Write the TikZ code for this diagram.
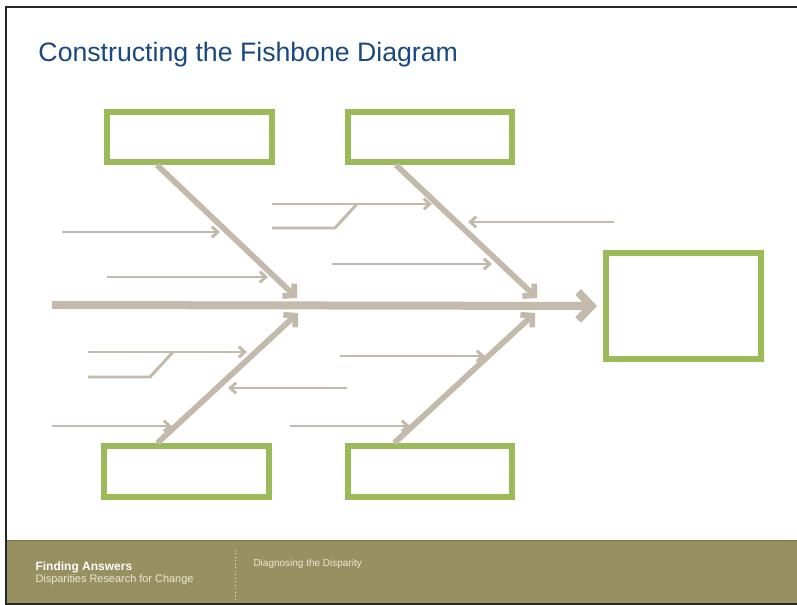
\documentclass[tikz,border=0pt]{standalone}
\usepackage{fontspec}
\setmainfont{Liberation Sans}
\usetikzlibrary{arrows.meta,calc}

\definecolor{boneclr}{RGB}{196,186,172}
\definecolor{boxgreen}{RGB}{155,187,89}
\definecolor{titleblue}{RGB}{26,72,128}
\definecolor{footolive}{RGB}{151,144,96}
\definecolor{footcream}{RGB}{236,233,214}

\tikzset{every picture/.style={line width=0.75pt}}
\tikzset{
  causebox/.style={draw=boxgreen, line width=4.5pt, fill=white, inner sep=0pt},
  spine/.style={draw=boneclr, line width=6pt, -{Straight Barb[length=10pt,width=21pt]}},
  bone/.style={draw=boneclr, line width=4.3pt, -{Straight Barb[length=6pt,width=13pt]}},
  twig/.style={draw=boneclr, line width=2.2pt, -{Straight Barb[length=4.5pt,width=8pt]}},
  twigjoin/.style={draw=boneclr, line width=2.2pt},
}

\begin{document}
\begin{tikzpicture}[x=0.75pt,y=0.75pt,yscale=-1,xscale=1]
\useasboundingbox (0,0) rectangle (797,605);
\fill[white] (0,0) rectangle (797,605);

%Shape: Footer band
\fill[footolive] (7,540) rectangle (797,603);
\draw[footolive!80!black, line width=0.6pt] (7,540) -- (797,540);
\draw[footcream, dotted, line width=0.6pt] (235,550) -- (235,600);
%Slide frame
\draw[black!85, line width=1.5pt] (797,7) -- (6,7) -- (6,604) -- (797,604);

% Text Node
\node (title) [anchor=base west, inner sep=0pt, text=titleblue, font=\fontsize{20}{24}\selectfont] at (38,62) {Constructing the Fishbone Diagram};

%Shape: Rectangle (causes and effect)
\node (causeA) [causebox, minimum width=123.75pt, minimum height=37.5pt] at (189.5,137) {};
\node (causeB) [causebox, minimum width=123pt, minimum height=37.5pt] at (430,137) {};
\node (causeC) [causebox, minimum width=123.75pt, minimum height=38.25pt] at (186.5,471.5) {};
\node (causeD) [causebox, minimum width=123pt, minimum height=38.25pt] at (430,471.5) {};
\node (effect) [causebox, minimum width=116.25pt, minimum height=79.5pt] at (683.5,306) {};

%Coordinates on the spine
\coordinate (tail) at (52,305);
\coordinate (tipA) at (297,298);
\coordinate (tipB) at (537,298);
\coordinate (tipC) at (298,313);
\coordinate (tipD) at (535,313);

%Straight Lines (bones)
\draw[bone] ($(causeA.south west)!0.31!(causeA.south east)$) -- (tipA);
\draw[bone] ($(causeB.south west)!0.30!(causeB.south east)$) -- (tipB);
\draw[bone] ($(causeC.north west)!0.33!(causeC.north east)$) -- (tipC);
\draw[bone] ($(causeD.north west)!0.29!(causeD.north east)$) -- (tipD);
%Straight Lines (spine)
\draw[spine] (tail) -- ([xshift=-4.5pt]effect.west);

%Coordinates for the small arrows
\coordinate (a1s) at (62,232);  \coordinate (a1e) at (220,232);
\coordinate (a2s) at (107,277); \coordinate (a2e) at (268,277);
\coordinate (b1s) at (272,204); \coordinate (b1e) at (432,204);
\coordinate (b2s) at (272,228); \coordinate (b2k) at (335,228); \coordinate (b2j) at (357,204);
\coordinate (b3s) at (614,222); \coordinate (b3e) at (468,222);
\coordinate (b4s) at (332,264); \coordinate (b4e) at (492,264);
\coordinate (c1s) at (88,352);  \coordinate (c1e) at (247,352);
\coordinate (c2s) at (88,377);  \coordinate (c2k) at (150,377); \coordinate (c2j) at (173,352);
\coordinate (c3s) at (347,388); \coordinate (c3e) at (228,388);
\coordinate (c4s) at (52,426);  \coordinate (c4e) at (172,426);
\coordinate (d1s) at (340,356); \coordinate (d1e) at (485,356);
\coordinate (d2s) at (290,426); \coordinate (d2e) at (410,426);

%Straight Lines (small arrows)
\draw[twig] (a1s) -- (a1e);
\draw[twig] (a2s) -- (a2e);
\draw[twig] (b1s) -- (b1e);
\draw[twigjoin] (b2s) -- (b2k) -- (b2j);
\draw[twig] (b3s) -- (b3e);
\draw[twig] (b4s) -- (b4e);
\draw[twig] (c1s) -- (c1e);
\draw[twigjoin] (c2s) -- (c2k) -- (c2j);
\draw[twig] (c3s) -- (c3e);
\draw[twig] (c4s) -- (c4e);
\draw[twig] (d1s) -- (d1e);
\draw[twig] (d2s) -- (d2e);

% Text Node
\node (brand) [anchor=base west, inner sep=0pt, text=white, font=\fontsize{9}{11}\selectfont\bfseries] at (35,571) {Finding Answers};
% Text Node
\node (brandsub) [anchor=base west, inner sep=0pt, text=footcream, font=\fontsize{8.2}{10}\selectfont] at (35,583) {Disparities Research for Change};
% Text Node
\node (section) [anchor=base west, inner sep=0pt, text=footcream, font=\fontsize{7.5}{9}\selectfont] at (253,567) {Diagnosing the Disparity};

\end{tikzpicture}
\end{document}
